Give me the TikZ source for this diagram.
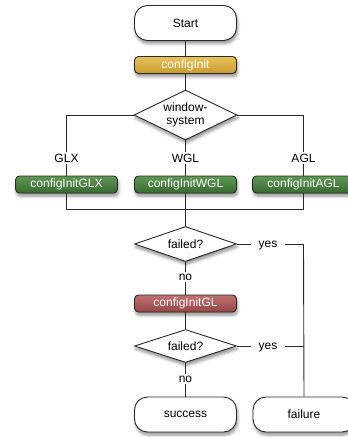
\documentclass[tikz,border=0pt]{standalone}
\usepackage{fontspec}
\setmainfont{Liberation Sans}
\usetikzlibrary{shapes.geometric,shadows,shadows.blur}
\definecolor{linec}{HTML}{2A2A2A}
\definecolor{goldtop}{HTML}{E6C25A}
\definecolor{goldbot}{HTML}{C99A2E}
\definecolor{greentop}{HTML}{5E9654}
\definecolor{greenbot}{HTML}{386C30}
\definecolor{redtop}{HTML}{BE7070}
\definecolor{redbot}{HTML}{984646}
\tikzset{
  shad/.style={blur shadow={shadow blur steps=6,shadow xshift=1pt,shadow yshift=-3pt,shadow opacity=45,shadow blur radius=3pt}},
  terminal/.style={draw=linec,line width=0.9pt,fill=white,rounded corners=13pt,
    minimum width=102pt,minimum height=35pt,inner sep=0pt,shad},
  procbox/.style={draw=linec,line width=0.9pt,rounded corners=4pt,text=white,
    minimum width=102pt,minimum height=17pt,inner sep=0pt,shad},
  goldbox/.style={procbox,top color=goldtop,bottom color=goldbot},
  greenbox/.style={procbox,top color=greentop,bottom color=greenbot},
  redbox/.style={procbox,top color=redtop,bottom color=redbot},
  decision/.style={diamond,aspect=2,draw=linec,line width=0.9pt,fill=white,
    inner sep=0pt,align=center,shad},
  lbl/.style={fill=white,inner sep=1.5pt},
  yeslbl/.style={lbl,text depth=0pt,inner xsep=7pt},
  conn/.style={draw=linec,line width=0.9pt}
}
\begin{document}
\begin{tikzpicture}[x=1pt,y=-1pt,font=\fontsize{12}{13}\selectfont]
\useasboundingbox (0,0) rectangle (348,437);
\node[terminal] (start) at (185.5,23) {Start};
\node[goldbox] (init) at (185.5,65) {configInit};
\node[decision,minimum width=103pt,minimum height=50pt] (ws) at (185.5,115) {window-\\system};
\node[lbl] (glx) at (66.5,158) {GLX};
\node[lbl] (wgl) at (185.5,158) {WGL};
\node[lbl] (agl) at (303.5,158) {AGL};
\node[greenbox] (bglx) at (66.5,184.5) {configInitGLX};
\node[greenbox] (bwgl) at (185.5,184.5) {configInitWGL};
\node[greenbox] (bagl) at (303.5,184.5) {configInitAGL};
\coordinate (m) at (185.5,209);
\node[decision,minimum width=102pt,minimum height=35pt] (f1) at (185.5,244) {failed?};
\node[yeslbl] (yes1) at (268,244) {yes};
\coordinate (c1) at (303.5,244);
\node[lbl] (no1) at (185.5,277) {no};
\node[redbox] (gl) at (185.5,303.5) {configInitGL};
\node[decision,minimum width=102pt,minimum height=33pt] (f2) at (185.5,346) {failed?};
\node[yeslbl] (yes2) at (268,346) {yes};
\coordinate (c2) at (303.5,346);
\node[lbl] (no2) at (185.5,379) {no};
\node[terminal] (succ) at (185.5,414.5) {success};
\node[terminal] (fail) at (304,414.5) {failure};
\path[conn] (start) -- (init);
\path[conn] (init) -- (ws);
\path[conn] (ws.west) -| (glx);
\path[conn] (glx) -- (bglx);
\path[conn] (ws) -- (wgl);
\path[conn] (wgl) -- (bwgl);
\path[conn] (ws.east) -| (agl);
\path[conn] (agl) -- (bagl);
\path[conn] (bglx.south) |- (m);
\path[conn] (bagl.south) |- (m);
\path[conn] (bwgl) -- (m);
\path[conn] (m) -- (f1);
\path[conn] (f1.east) -- (yes1);
\path[conn] (yes1) -- (c1);
\path[conn] (c1) -- (fail.north);
\path[conn] (f1) -- (no1);
\path[conn] (no1) -- (gl);
\path[conn] (gl) -- (f2);
\path[conn] (f2.east) -- (yes2);
\path[conn] (yes2) -- (c2);
\path[conn] (f2) -- (no2);
\path[conn] (no2) -- (succ);
\end{tikzpicture}
\end{document}
